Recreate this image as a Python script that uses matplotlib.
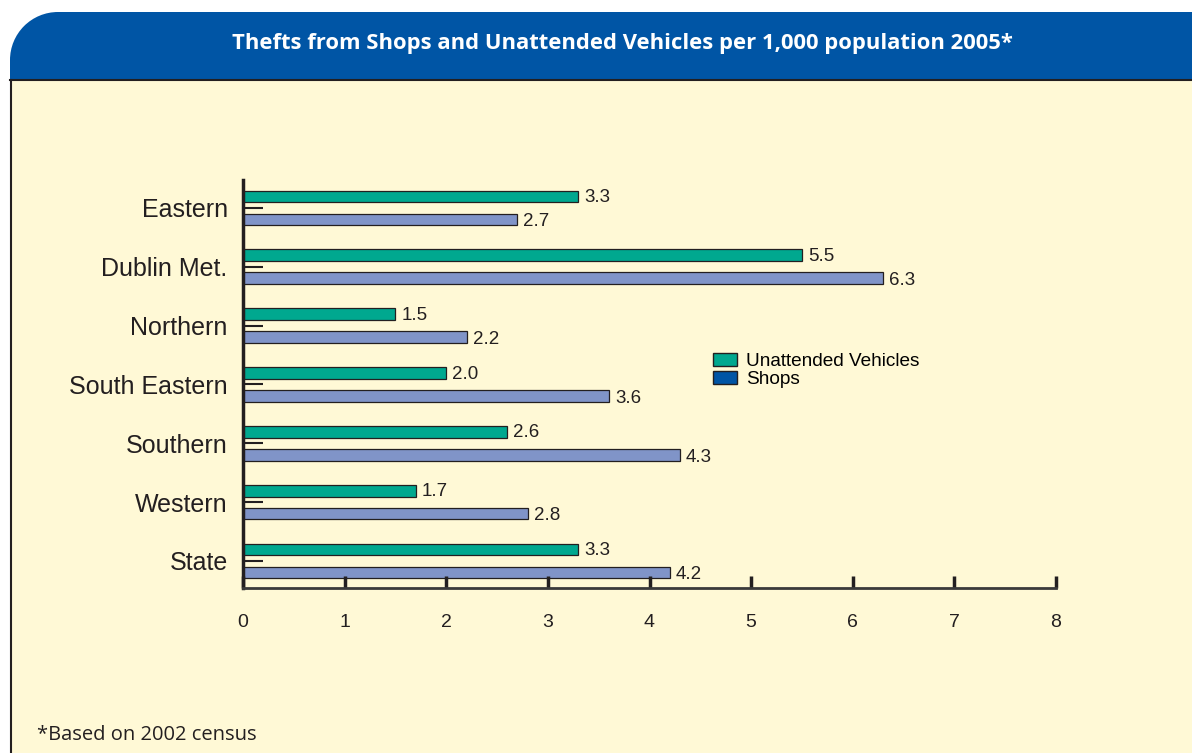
#!/usr/bin/env python3
"""Thefts from shops and unattended vehicles per 1,000 population, 2005."""

import matplotlib

matplotlib.use("Agg")
import matplotlib.pyplot as plt
from matplotlib.patches import Patch, Rectangle, Wedge

REGIONS = ["Eastern", "Dublin Met.", "Northern", "South Eastern",
           "Southern", "Western", "State"]
VEHICLES = [3.3, 5.5, 1.5, 2.0, 2.6, 1.7, 3.3]
SHOPS = [2.7, 6.3, 2.2, 3.6, 4.3, 2.8, 4.2]
X_TICKS = [0, 1, 2, 3, 4, 5, 6, 7, 8]

TITLE = "Thefts from Shops and Unattended Vehicles per 1,000 population 2005*"
FOOTNOTE = "*Based on 2002 census"

HEADER_BLUE = "#0055A5"
CREAM = "#FFF9D6"
GREEN = "#00A88F"
LAVENDER = "#8094C8"
DARK = "#231F20"

W, H = 1192, 753

plt.rcParams["font.family"] = ["Liberation Sans", "DejaVu Sans"]

fig = plt.figure(figsize=(W / 100, H / 100), dpi=100)
fig.patch.set_facecolor("white")

# background panel in pixel coordinates
bg = fig.add_axes([0, 0, 1, 1])
bg.set_xlim(0, W)
bg.set_ylim(H, 0)
bg.axis("off")

r = 48
top, hdr_bottom, left = 12, 80, 10
bg.add_patch(Rectangle((left + r, top), W - left - r, hdr_bottom - top,
                       facecolor=HEADER_BLUE, edgecolor="none"))
bg.add_patch(Rectangle((left, top + r), r + 1, hdr_bottom - top - r,
                       facecolor=HEADER_BLUE, edgecolor="none"))
bg.add_patch(Wedge((left + r, top + r), r, 180, 270,
                   facecolor=HEADER_BLUE, edgecolor="none"))
bg.add_patch(Rectangle((left, hdr_bottom), W - left, H - hdr_bottom,
                       facecolor=CREAM, edgecolor="none"))
bg.plot([left, W], [hdr_bottom, hdr_bottom], color=DARK, lw=1.5)
bg.plot([left + 0.5, left + 0.5], [hdr_bottom, H], color=DARK, lw=1.5)

bg.text(622, 43, TITLE, color="white", fontsize=15.8, fontweight="bold",
        ha="center", va="center", family=["Open Sans", "DejaVu Sans"])
bg.text(37, 735, FOOTNOTE, color=DARK, fontsize=14.5, ha="left", va="center",
        family=["Open Sans", "DejaVu Sans"])

# chart
ax = fig.add_axes([243 / W, 1 - 588 / H, (1056 - 243) / W, (588 - 180) / H])
ax.set_facecolor("none")

pos = list(range(len(REGIONS)))
h = 0.2
off = 0.195
ax.barh([p - off for p in pos], VEHICLES, height=h, color=GREEN,
        edgecolor=DARK, linewidth=0.9)
ax.barh([p + off for p in pos], SHOPS, height=h, color=LAVENDER,
        edgecolor=DARK, linewidth=0.9)

for p, v in zip(pos, VEHICLES):
    ax.text(v + 0.06, p - off + 0.02, f"{v:.1f}", fontsize=13.5,
            ha="left", va="center", color=DARK)
for p, v in zip(pos, SHOPS):
    ax.text(v + 0.06, p + off + 0.04, f"{v:.1f}", fontsize=13.5,
            ha="left", va="center", color=DARK)

ax.set_xlim(0, 8)
ax.set_ylim(6.46, -0.475)
ax.set_xticks(X_TICKS)
ax.set_yticks(pos)
ax.set_yticklabels(REGIONS)

for s in ("top", "right"):
    ax.spines[s].set_visible(False)
ax.spines["left"].set_linewidth(2.5)
ax.spines["left"].set_color(DARK)
ax.spines["bottom"].set_linewidth(2)
ax.spines["bottom"].set_color("#3a3a3a")

ax.tick_params(axis="y", direction="in", length=14.5, width=1.5, color=DARK,
               labelsize=18, labelcolor=DARK, pad=11)
ax.tick_params(axis="x", direction="in", length=9, width=2.5, color=DARK,
               labelsize=14, labelcolor=DARK, pad=18.5)

handles = [Patch(facecolor=GREEN, edgecolor=DARK, label="Unattended Vehicles"),
           Patch(facecolor=HEADER_BLUE, edgecolor=DARK, label="Shops")]
fig.legend(handles=handles, loc="upper left",
           bbox_to_anchor=(705 / W, 1 - 345 / H), frameon=False,
           fontsize=13.7, handlelength=1.3, handleheight=0.7,
           handletextpad=0.45, labelspacing=0.05, borderaxespad=0)

fig.savefig("out.png", dpi=100, facecolor=fig.get_facecolor())
